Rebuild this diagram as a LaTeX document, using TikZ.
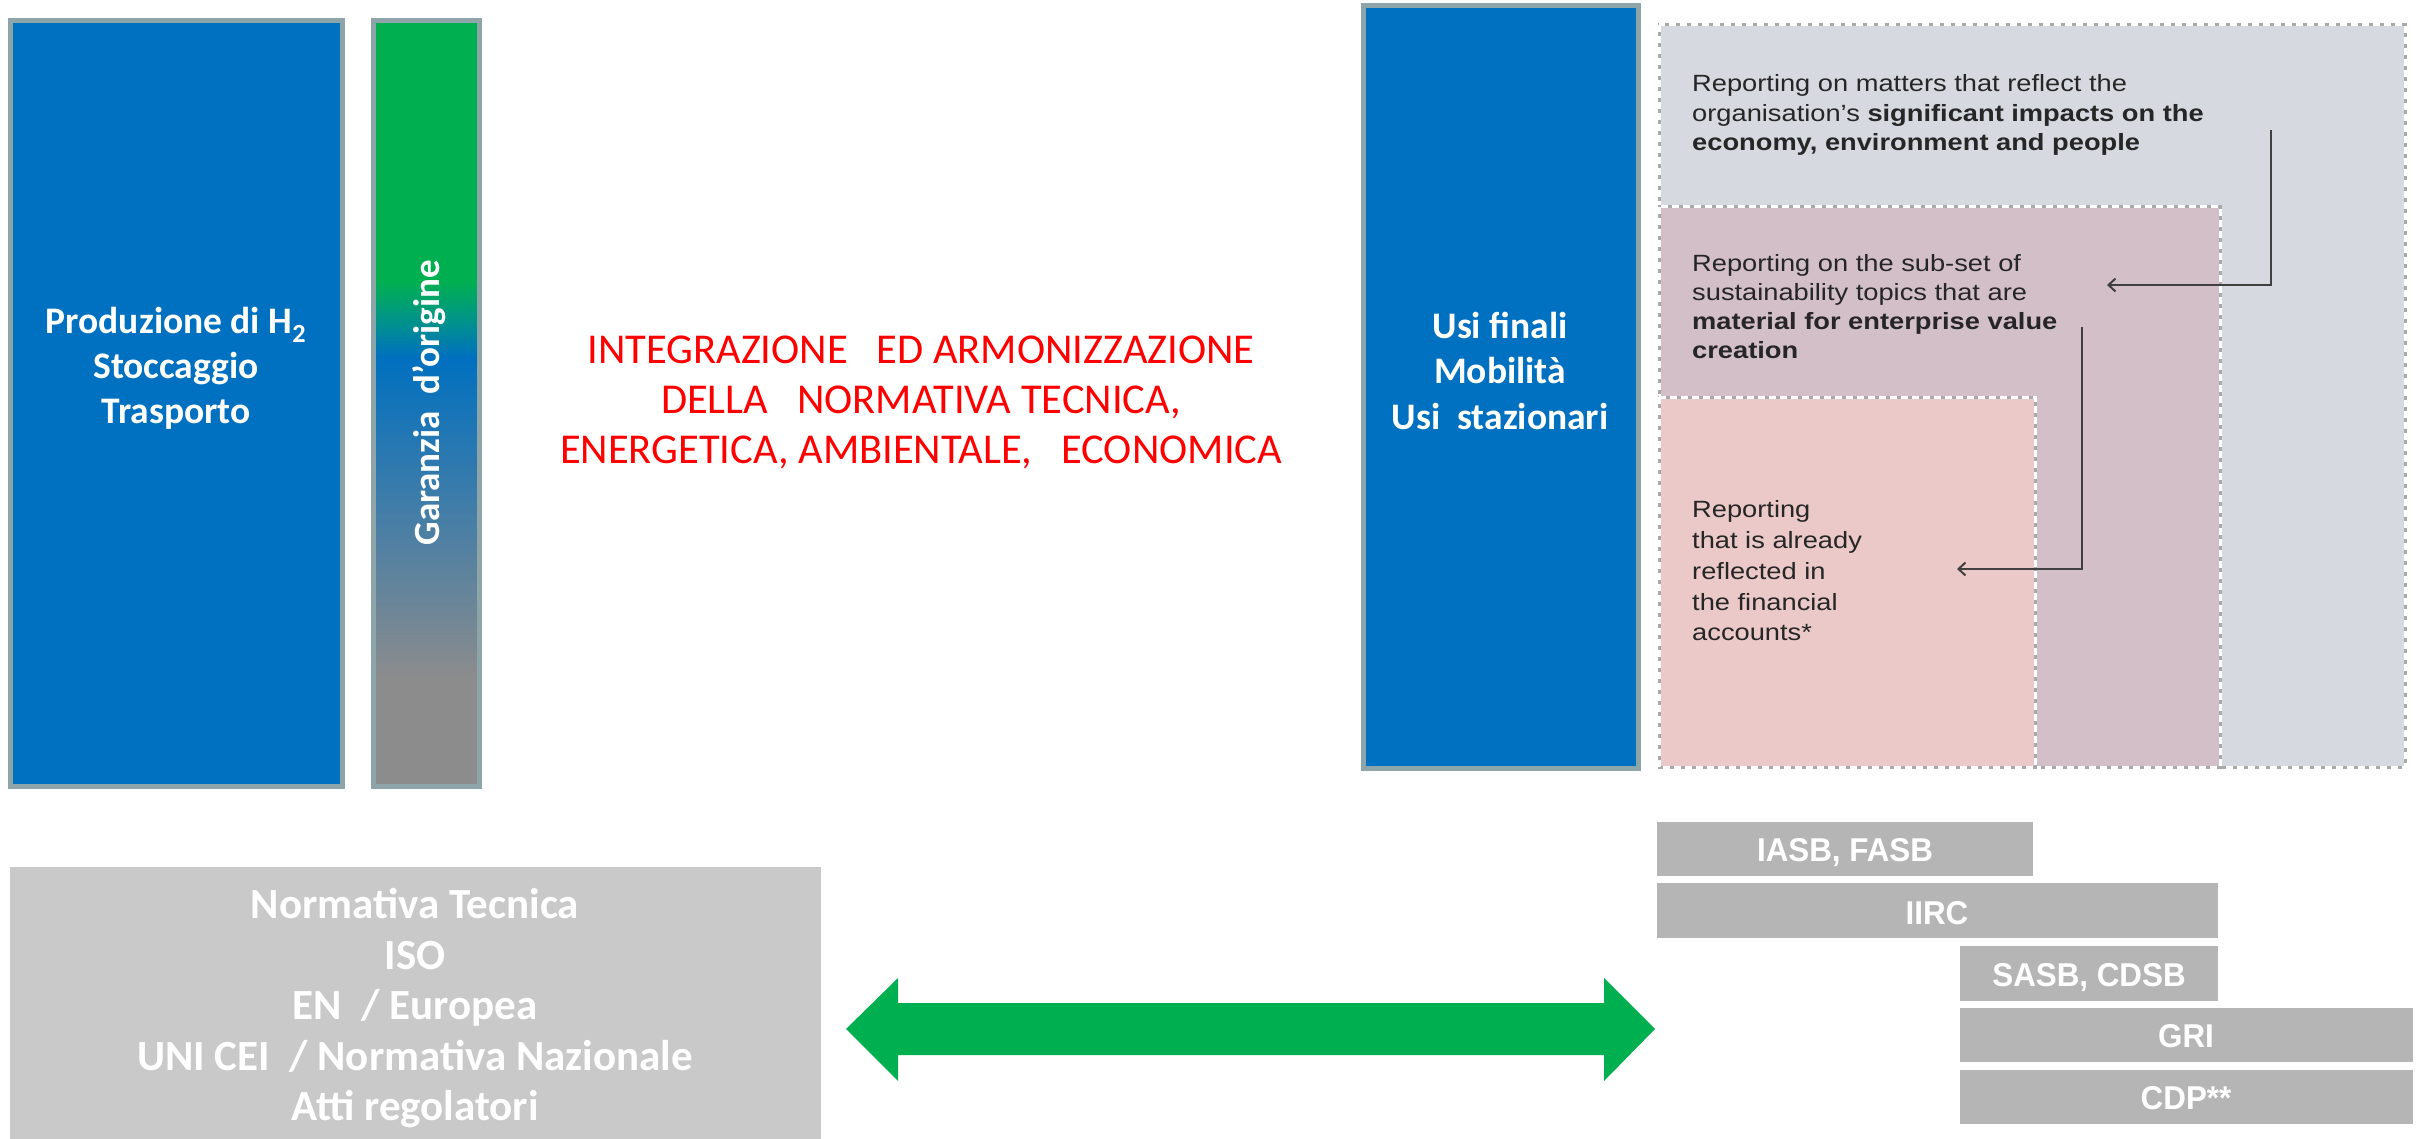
\documentclass[tikz,border=0pt]{standalone}
\usepackage{fontspec}
\setmainfont{Carlito}
\newfontfamily\repfont[FakeStretch=1.16]{Liberation Sans}
\newfontfamily\barfont[FakeStretch=0.95]{Liberation Sans}
\usetikzlibrary{arrows.meta}
\definecolor{hblue}{HTML}{0070C0}
\definecolor{hborder}{HTML}{8DA5A8}
\definecolor{hgreen}{HTML}{00B050}
\definecolor{hteal}{HTML}{009488}
\definecolor{hgrayg}{HTML}{8C8C8C}
\definecolor{hred}{HTML}{FF0000}
\definecolor{boxgray}{HTML}{C9C9C9}
\definecolor{bargray}{HTML}{B5B5B5}
\definecolor{outerfill}{HTML}{D6D9E0}
\definecolor{midfill}{HTML}{D3BFC8}
\definecolor{innerfill}{HTML}{EBC9C9}
\definecolor{edgegray}{HTML}{A9A9A9}
\definecolor{txtdark}{HTML}{262626}
\definecolor{arrowdark}{HTML}{404040}
\pgfdeclareverticalshading{garanzia}{100bp}{color(0bp)=(hgrayg); color(32bp)=(hgrayg); color(53bp)=(hblue); color(55.5bp)=(hteal); color(58bp)=(hgreen); color(100bp)=(hgreen)}
\tikzset{
  hbox/.style={fill=hblue, draw=hborder, line width=5pt},
  gbar/.style={shading=garanzia, draw=hborder, line width=5pt},
  whitetxt/.style={text=white, inner sep=0pt, anchor=base},
  boxtxt/.style={whitetxt, font=\bfseries\fontsize{37.5}{45}\selectfont},
  redtxt/.style={text=hred, inner sep=0pt, anchor=base, font=\fontsize{42.5}{50}\selectfont},
  normtxt/.style={whitetxt, font=\bfseries\fontsize{43}{50}\selectfont},
  reptxt/.style={text=txtdark, inner sep=0pt, anchor=base west, font=\repfont\fontsize{23.5}{29}\selectfont},
  bartxt/.style={whitetxt, font=\barfont\bfseries\fontsize{33}{38}\selectfont},
  dashbox/.style={preaction={draw=edgegray, line width=3pt}, draw=white, line width=3pt, dash pattern=on 7pt off 4pt},
  conn/.style={draw=arrowdark, line width=2pt, -{Straight Barb[length=7pt,width=13pt]}},
  barbox/.style={fill=bargray}
}
\begin{document}
\begin{tikzpicture}[x=1pt,y=-1pt]
\useasboundingbox (0,0) rectangle (2425,1139);
\fill[white] (0,0) rectangle (2425,1139);

% left blue box
\draw[hbox] (10,21) rectangle (342,786);
\node[boxtxt] (p1) at (176,334) {Produzione di H\textsubscript{2}};
\node[boxtxt] (p2) at (176,379) {Stoccaggio};
\node[boxtxt] (p3) at (176,423) {Trasporto};

% gradient bar
\draw[gbar] (373.5,21) rectangle (479.5,786);
\node[whitetxt, rotate=90, font=\bfseries\fontsize{37}{44}\selectfont] (gar) at (439,403) {Garanzia\ \ d’origine};

% red text
\node[redtxt] (r1) at (921,363) {INTEGRAZIONE\ \ \ ED ARMONIZZAZIONE};
\node[redtxt] (r2) at (921,413) {DELLA\ \ \ NORMATIVA TECNICA,};
\node[redtxt] (r3) at (921,463) {ENERGETICA, AMBIENTALE,\ \ \ ECONOMICA};

% usi finali box
\draw[hbox] (1363.5,5.5) rectangle (1638.5,768.5);
\node[boxtxt] (u1) at (1500,339) {Usi finali};
\node[boxtxt] (u2) at (1500,384) {Mobilità};
\node[boxtxt] (u3) at (1500,429) {Usi\ \ stazionari};

% nested reporting boxes
\fill[outerfill] (1659,25) rectangle (2405,767);
\draw[dashbox] (1659,25) rectangle (2405,767);
\fill[midfill] (1659,207) rectangle (2220,767);
\draw[dashbox] (1659,207) rectangle (2220,767);
\fill[innerfill] (1659,397) rectangle (2035,767);
\draw[dashbox] (1659,397) rectangle (2035,767);

\node[reptxt] (t1a) at (1692,92) {Reporting on matters that reflect the};
\node[reptxt] (t1b) at (1692,121.5) {organisation’s \textbf{significant impacts on the}};
\node[reptxt] (t1c) at (1692,151) {\textbf{economy, environment and people}};

\node[reptxt] (t2a) at (1692,272) {Reporting on the sub-set of};
\node[reptxt] (t2b) at (1692,301) {sustainability topics that are};
\node[reptxt] (t2c) at (1692,330) {\textbf{material for enterprise value}};
\node[reptxt] (t2d) at (1692,359) {\textbf{creation}};

\node[reptxt] (t3a) at (1692,517) {Reporting};
\node[reptxt] (t3b) at (1692,548) {that is already};
\node[reptxt] (t3c) at (1692,579) {reflected in};
\node[reptxt] (t3d) at (1692,610) {the financial};
\node[reptxt] (t3e) at (1692,640) {accounts*};

\coordinate (a1s) at (2271,130);
\coordinate (a1e) at (2107,285);
\draw[conn] (a1s) |- (a1e);
\coordinate (a2s) at (2082,327);
\coordinate (a2e) at (1957,569);
\draw[conn] (a2s) |- (a2e);

% standards bars
\fill[barbox] (1657,822) rectangle (2033,876);
\node[bartxt] (b1) at (1845,861.5) {IASB, FASB};
\fill[barbox] (1657,883) rectangle (2218,938);
\node[bartxt] (b2) at (1937,924) {IIRC};
\fill[barbox] (1960,946) rectangle (2218,1001);
\node[bartxt] (b3) at (2089,986) {SASB, CDSB};
\fill[barbox] (1960,1008) rectangle (2413,1062);
\node[bartxt] (b4) at (2186,1047.5) {GRI};
\fill[barbox] (1960,1070) rectangle (2413,1124);
\node[bartxt] (b5) at (2186,1109.5) {CDP**};

% bottom gray box
\fill[boxgray] (10,867) rectangle (821,1139);
\node[normtxt] (n1) at (415,918) {Normativa Tecnica};
\node[normtxt] (n2) at (415,969) {ISO};
\node[normtxt] (n3) at (415,1019) {EN\ \ / Europea};
\node[normtxt] (n4) at (415,1070) {UNI CEI\ \ / Normativa Nazionale};
\node[normtxt] (n5) at (415,1120) {Atti regolatori};

% green double arrow
\fill[hgreen] (846,1029) -- (898,978) -- (898,1003) -- (1604,1003) -- (1604,978) -- (1655,1029)
  -- (1604,1081) -- (1604,1055) -- (898,1055) -- (898,1081) -- cycle;
\end{tikzpicture}
\end{document}
